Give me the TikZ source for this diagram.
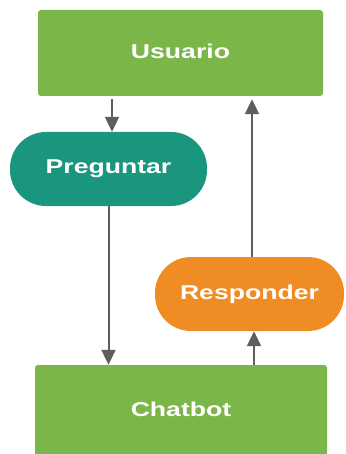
\documentclass[tikz,border=0pt]{standalone}
\usepackage{fontspec}
\setmainfont{Liberation Sans}
\usetikzlibrary{arrows.meta}
\definecolor{leafgreen}{HTML}{7AB648}
\definecolor{tealpill}{HTML}{1A967E}
\definecolor{orangepill}{HTML}{F08C24}
\definecolor{linegray}{HTML}{5E5E5E}
% wide bold labels
\newcommand\widelabel[1]{\scalebox{1.33}[1]{\fontsize{20}{22}\selectfont\bfseries #1}}
\tikzset{
  box/.style={rectangle, fill=leafgreen, rounded corners=3pt, inner sep=0pt, text=white},
  pill/.style={rectangle, rounded corners=36pt, inner sep=0pt, text=white},
  flow/.style={draw=linegray, line width=2pt, -{Triangle[width=14pt,length=15pt]}}
}
\begin{document}
\begin{tikzpicture}[x=1pt,y=-1pt]
  \useasboundingbox (0,0) rectangle (345,454);
  \clip (0,0) rectangle (345,454);
  % boxes
  \node[box, minimum width=285pt, minimum height=86pt] (usuario) at (180.5,53) {\raisebox{3pt}{\widelabel{Usuario}}};
  \node[box, minimum width=292pt, minimum height=92pt] (chatbot) at (181,411) {\raisebox{3pt}{\widelabel{Chatbot}}};
  % pills
  \node[pill, fill=tealpill, minimum width=197pt, minimum height=74pt] (preguntar) at (108.5,169) {\raisebox{1pt}{\widelabel{Preguntar}}};
  \node[pill, fill=orangepill, minimum width=189pt, minimum height=74pt] (responder) at (249.5,294) {\widelabel{Responder}};
  % connectors
  \draw[flow, shorten <=3pt] ([xshift=3.5pt]preguntar.north |- usuario.south) -- ([xshift=3.5pt]preguntar.north);
  \draw[flow] (preguntar.south) -- (preguntar.south |- chatbot.north);
  \draw[flow] ([xshift=4.5pt]responder.south |- chatbot.north) -- ([xshift=4.5pt]responder.south);
  \draw[flow, shorten >=3pt] ([xshift=2.5pt]responder.north) -- ([xshift=2.5pt]responder.north |- usuario.south);
\end{tikzpicture}
\end{document}
